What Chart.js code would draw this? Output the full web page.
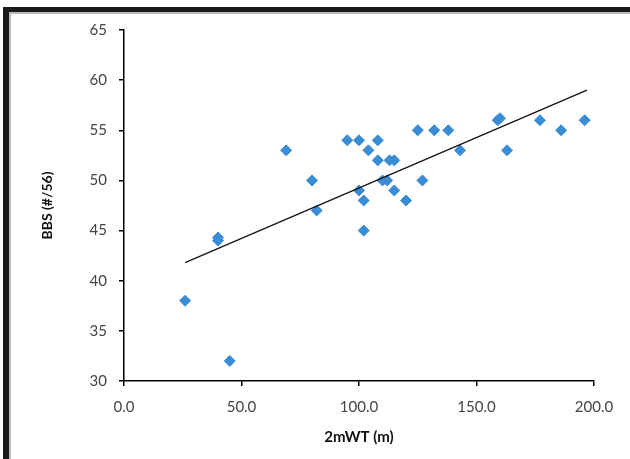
<!DOCTYPE html>
<html>
<head>
<meta charset="utf-8">
<script src="https://cdn.jsdelivr.net/npm/chart.js@4"></script>
<style>
    body { margin: 0; background: #fff; }
    #moldura {
        position: absolute; left: 0; top: 0; width: 630px; height: 459px;
    }
    #borda {
        position: absolute; left: 3px; top: 7px; width: 640px; height: 470px;
        border-top: 5px solid #1a1a1a; border-left: 6px solid #1a1a1a;
        box-shadow: inset 2px 2px 0 #bbb;
        pointer-events: none;
    }
</style>
</head>
<body>
<div id="moldura">
    <canvas id="grafico" width="630" height="459"></canvas>
    <div id="borda"></div>
</div>
<script>
// Dados: 2mWT (m) x BBS (#/56)
const distancias = [26, 40, 40, 45, 69, 80, 82, 95, 100, 100, 102, 102, 104, 108, 108, 110, 112, 113, 115, 115, 120, 125, 127, 132, 138, 143, 159, 160, 163, 177, 186, 196];
const pontuacoes = [38, 44, 44.3, 32, 53, 50, 47, 54, 54, 49, 48, 45, 53, 54, 52, 50, 50, 52, 52, 49, 48, 55, 50, 55, 55, 53, 56, 56.2, 53, 56, 55, 56];

// extremos da linha de tendência
const tendenciaX = [26, 197];
const tendenciaY = [41.8, 59];

const ticksX = [0, 50, 100, 150, 200];
const ticksY = [30, 35, 40, 45, 50, 55, 60, 65];

const pontos = distancias.map((x, i) => ({ x: x, y: pontuacoes[i] }));
const linha = tendenciaX.map((x, i) => ({ x: x, y: tendenciaY[i] }));

const fonte = 'Lato, "Open Sans", sans-serif';

const ctx = document.getElementById('grafico').getContext('2d');
new Chart(ctx, {
    type: 'scatter',
    data: {
        datasets: [{
            label: 'BBS',
            data: pontos,
            pointStyle: 'rectRot',
            pointRadius: 5.5,
            pointHoverRadius: 5.5,
            backgroundColor: 'rgb(58, 140, 212)',
            borderColor: 'rgb(58, 140, 212)',
            borderWidth: 1,
            order: 2
        }, {
            label: 'Tendência',
            type: 'line',
            data: linha,
            borderColor: '#111',
            borderWidth: 1.2,
            pointRadius: 0,
            fill: false,
            order: 1
        }]
    },
    options: {
        responsive: false,
        animation: false,
        layout: {
            padding: { top: 30, right: 36, bottom: 0, left: 0 }
        },
        plugins: {
            legend: { display: false },
            tooltip: { enabled: false }
        },
        scales: {
            x: {
                type: 'linear',
                min: 0,
                max: 200,
                afterBuildTicks: (escala) => { escala.ticks = ticksX.map(v => ({ value: v })); },
                afterFit: (escala) => { escala.height = 78; },
                grid: { drawOnChartArea: false, drawTicks: true, tickLength: 5, color: '#000', lineWidth: 1.5 },
                border: { display: true, color: '#000', width: 1.5 },
                ticks: {
                    padding: 12,
                    color: '#444',
                    font: { family: fonte, size: 15 },
                    callback: (v) => Number(v).toFixed(1)
                },
                title: {
                    display: true,
                    text: '2mWT (m)',
                    color: '#111',
                    font: { family: fonte, size: 15, weight: 'bold' },
                    padding: { top: 0, bottom: 13 }
                }
            },
            y: {
                min: 30,
                max: 65,
                afterBuildTicks: (escala) => { escala.ticks = ticksY.map(v => ({ value: v })); },
                afterFit: (escala) => { escala.width = 124; },
                grid: { drawOnChartArea: false, drawTicks: true, tickLength: 5, color: '#000', lineWidth: 1.5 },
                border: { display: true, color: '#000', width: 1.5 },
                ticks: {
                    padding: 12,
                    color: '#444',
                    font: { family: fonte, size: 15 }
                },
                title: {
                    display: true,
                    text: 'BBS (#/56)',
                    color: '#111',
                    font: { family: fonte, size: 14, weight: 'bold' },
                    padding: { top: 39, bottom: 0 }
                }
            }
        }
    }
});
</script>
</body>
</html>
